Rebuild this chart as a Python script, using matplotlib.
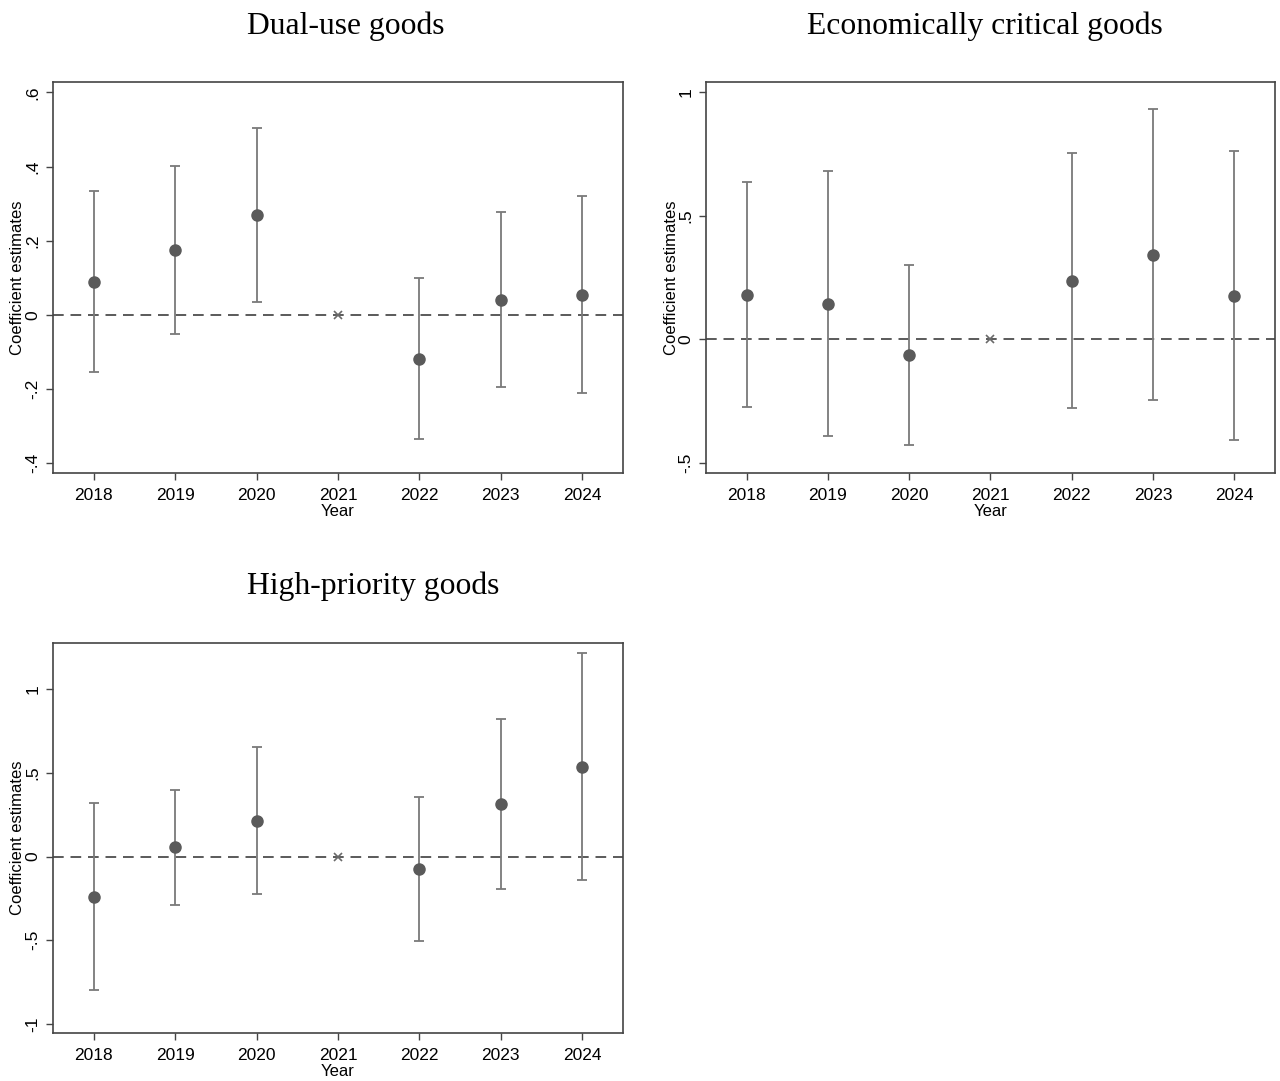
import numpy as np
import matplotlib.pyplot as plt

years = [2018, 2019, 2020, 2021, 2022, 2023, 2024]
ref_year = 2021

# point estimates and 95% CI bounds per panel (2021 is the omitted base year)
dual_coef = [0.089, 0.175, 0.270, 0.0, -0.119, 0.040, 0.054]
dual_lo = [-0.154, -0.051, 0.035, 0.0, -0.334, -0.194, -0.210]
dual_hi = [0.334, 0.402, 0.504, 0.0, 0.100, 0.278, 0.321]

econ_coef = [0.180, 0.143, -0.063, 0.0, 0.236, 0.341, 0.175]
econ_lo = [-0.274, -0.390, -0.427, 0.0, -0.278, -0.245, -0.407]
econ_hi = [0.636, 0.680, 0.300, 0.0, 0.753, 0.931, 0.761]

prio_coef = [-0.242, 0.057, 0.212, 0.0, -0.074, 0.313, 0.534]
prio_lo = [-0.797, -0.290, -0.224, 0.0, -0.504, -0.194, -0.140]
prio_hi = [0.320, 0.397, 0.654, 0.0, 0.355, 0.821, 1.215]

dual_ticks = [-0.4, -0.2, 0, 0.2, 0.4, 0.6]
dual_ticklabels = ["-.4", "-.2", "0", ".2", ".4", ".6"]
econ_ticks = [-0.5, 0, 0.5, 1]
econ_ticklabels = ["-.5", "0", ".5", "1"]
prio_ticks = [-1, -0.5, 0, 0.5, 1]
prio_ticklabels = ["-1", "-.5", "0", ".5", "1"]

W, H = 1280, 1081
fig = plt.figure(figsize=(W / 100, H / 100), dpi=100)
fig.patch.set_facecolor("white")

sans = ["Liberation Sans", "DejaVu Sans"]
serif = ["Liberation Serif", "DejaVu Serif"]


def px_axes(left, top, right, bottom):
    return fig.add_axes([left / W, 1 - bottom / H, (right - left) / W, (bottom - top) / H])


def panel(ax, coef, lo, hi, ylim, ticks, ticklabels):
    x = np.array(years)
    coef = np.array(coef)
    lo = np.array(lo)
    hi = np.array(hi)
    est = x != ref_year

    ax.axhline(0, color="#5a5a5a", lw=1.4, ls=(0, (5.5, 3.5)), zorder=1)
    ax.errorbar(x[est], coef[est], yerr=[coef[est] - lo[est], hi[est] - coef[est]],
                fmt="none", ecolor="#7a7a7a", elinewidth=1.3, capsize=3.8,
                capthick=1.3, zorder=2)
    ax.plot(x[est], coef[est], "o", color="#5a5a5a", ms=8, zorder=3)
    ax.plot(x[~est], coef[~est], "x", color="#6a6a6a", ms=6, mew=1.2, zorder=3)

    ax.set_xlim(2017.5, 2024.5)
    ax.set_ylim(*ylim)
    ax.set_xticks(years)
    ax.set_xticklabels([str(y) for y in years], fontsize=12.5, family=sans)
    ax.set_yticks(ticks)
    ax.set_yticklabels(ticklabels, fontsize=12.5, family=sans, rotation=90, va="center")
    ax.tick_params(direction="out", length=5, width=1, color="#444444")
    ax.tick_params(axis="x", pad=6)
    ax.tick_params(axis="y", pad=4)
    for s in ax.spines.values():
        s.set_color("#444444")
        s.set_linewidth(1.2)
    ax.set_xlabel("Year", fontsize=12, family=sans, labelpad=0.5)
    ax.set_ylabel("Coefficient estimates", fontsize=12, family=sans, labelpad=0)


ax1 = px_axes(53, 82, 623, 473)
panel(ax1, dual_coef, dual_lo, dual_hi, (-0.426, 0.628), dual_ticks, dual_ticklabels)

ax2 = px_axes(706, 82, 1275, 473)
panel(ax2, econ_coef, econ_lo, econ_hi, (-0.541, 1.04), econ_ticks, econ_ticklabels)

ax3 = px_axes(53, 643, 623, 1033)
panel(ax3, prio_coef, prio_lo, prio_hi, (-1.054, 1.275), prio_ticks, prio_ticklabels)

fig.text(346 / W, 1 - 26 / H, "Dual-use goods", ha="center", va="center",
         fontsize=22.8, family=serif)
fig.text(985 / W, 1 - 26 / H, "Economically critical goods", ha="center", va="center",
         fontsize=22.8, family=serif)
fig.text(373 / W, 1 - 586 / H, "High-priority goods", ha="center", va="center",
         fontsize=22.8, family=serif)

fig.savefig("out.png", dpi=100, facecolor="white")
